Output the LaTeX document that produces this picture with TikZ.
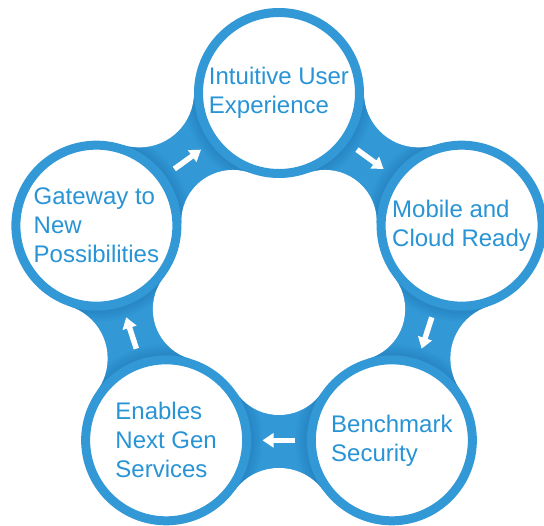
\documentclass[tikz,border=0pt]{standalone}
\usepackage{fontspec}
\setmainfont{Liberation Sans}
\usetikzlibrary{calc,arrows.meta}
\definecolor{ringblue}{RGB}{50,152,214}
\definecolor{textblue}{RGB}{40,148,214}
\definecolor{shadeblue}{RGB}{15,80,140}

\begin{document}
\begin{tikzpicture}[x=1pt,y=1pt,
  stage/.style={circle,draw=ringblue,line width=9pt,fill=white,minimum size=161pt,
    inner sep=0pt,align=left,text=textblue,font=\fontsize{24}{29}\selectfont},
  flow/.style={draw=white,line width=5.5pt,-{Triangle[length=11pt,width=14pt]}},
  ring/.style={insert path={(c0) -- (oa0) -- (ob0) -- (c1) -- (oa1) -- (ob1) -- (c2)
    -- (oa2) -- (ob2) -- (c3) -- (oa3) -- (ob3) -- (c4) -- (oa4) -- (ob4) -- cycle}}]
  \useasboundingbox (-279,-241) rectangle (265,285);

  % centres and cutting circles
  \foreach \i in {0,...,4} {
    \coordinate (c\i) at ({90-72*\i}:192);
    \coordinate (ko\i) at ({54-72*\i}:237.7);
    \coordinate (ki\i) at ({54-72*\i}:78.4);
  }
  % tangent points
  \foreach \i in {0,...,4} {
    \pgfmathtruncatemacro\j{mod(\i+1,5)}
    \coordinate (oa\i) at ($(c\i)!85pt!(ko\i)$);
    \coordinate (ob\i) at ($(c\j)!85pt!(ko\i)$);
    \coordinate (ia\i) at ($(c\i)!85pt!(ki\i)$);
    \coordinate (ib\i) at ($(c\j)!85pt!(ki\i)$);
  }

  % blue ring with soft shadows
  \fill[ringblue, ring];
  \begin{scope}
    \clip[ring];
    \foreach \i in {0,...,4}
      \foreach \r in {86,88,...,96}
        \fill[shadeblue, opacity=0.035] (c\i) circle (\r);
  \end{scope}

  % outer and inner cut-outs
  \foreach \i in {0,...,4} {
    \fill[white] (ko\i) circle (54.7);
    \fill[white] (ki\i) circle (51.6);
  }
  \fill[white] (ki0) -- (ib0) -- (ia1) -- (ki1) -- (ib1) -- (ia2) -- (ki2) -- (ib2)
    -- (ia3) -- (ki3) -- (ib3) -- (ia4) -- (ki4) -- (ib4) -- (ia0) -- cycle;

  % stages
  \node[stage] (ux) at (c0) {Intuitive User\\Experience};
  \node[stage] (mobile) at (c1) {Mobile and\\Cloud Ready};
  \node[stage] (security) at (c2) {Benchmark\\Security};
  \node[stage] (nextgen) at (c3) {Enables\\Next Gen\\Services};
  \node[stage] (gateway) at (c4) {Gateway to\\New\\Possibilities};

  % arrows
  \draw[flow] ($(ux)!0.427!(mobile)$) -- ($(ux)!0.573!(mobile)$);
  \draw[flow] ($(mobile)!0.427!(security)$) -- ($(mobile)!0.573!(security)$);
  \draw[flow] ($(security)!0.427!(nextgen)$) -- ($(security)!0.573!(nextgen)$);
  \draw[flow] ($(nextgen)!0.427!(gateway)$) -- ($(nextgen)!0.573!(gateway)$);
  \draw[flow] ($(gateway)!0.427!(ux)$) -- ($(gateway)!0.573!(ux)$);
\end{tikzpicture}
\end{document}
